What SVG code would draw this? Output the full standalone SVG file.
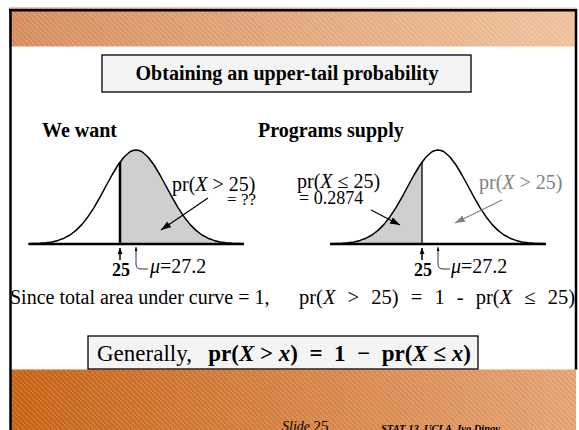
<svg xmlns="http://www.w3.org/2000/svg" width="579" height="430" viewBox="0 0 579 430">
<style>
.t{font-family:"Liberation Serif","Times New Roman",serif;fill:#000}
.b{font-weight:bold}
.i{font-style:italic}
.curve{fill:none;stroke:#000;stroke-width:1.5;stroke-linejoin:round}
.shade{fill:#cfcfcf;stroke:none}
.axis{stroke:#000;stroke-width:2.5;fill:none}
.frame{stroke:#000;stroke-width:2.5;fill:none}
.box{fill:#f4f4f4;stroke:#000;stroke-width:1.3}
</style>
<defs>
<linearGradient id="gTop" x1="0" y1="0" x2="1" y2="0"><stop offset="0" stop-color="#d68d5e"/><stop offset="1" stop-color="#eec29c"/></linearGradient>
<linearGradient id="gBot" x1="0" y1="0" x2="1" y2="0"><stop offset="0" stop-color="#c66214"/><stop offset="1" stop-color="#e4a274"/></linearGradient>
<pattern id="hatch" width="5" height="5" patternUnits="userSpaceOnUse"><path d="M-1,-1 L6,6 M-1,4 L1,6 M4,-1 L6,1" stroke="#fff" stroke-opacity="0.28" stroke-width="0.8"/></pattern>
<marker id="ah" viewBox="0 0 10 7" refX="10" refY="3.5" markerWidth="10" markerHeight="7" markerUnits="userSpaceOnUse" orient="auto"><path d="M0,0 L10,3.5 L0,7 z" fill="#000"/></marker>
<marker id="ahg" viewBox="0 0 10 7" refX="10" refY="3.5" markerWidth="10" markerHeight="7" markerUnits="userSpaceOnUse" orient="auto"><path d="M0,0 L10,3.5 L0,7 z" fill="#808080"/></marker>
<marker id="ahs" viewBox="0 0 6 5" refX="6" refY="2.5" markerWidth="6" markerHeight="5" markerUnits="userSpaceOnUse" orient="auto"><path d="M0,0 L6,2.5 L0,5 z" fill="#000"/></marker>
<marker id="aht" viewBox="0 0 4 3" refX="4" refY="1.5" markerWidth="4" markerHeight="3" markerUnits="userSpaceOnUse" orient="auto-start-reverse"><path d="M0,0 L4,1.5 L0,3 z" fill="#000"/></marker>
<polyline id="curve" class="curve" points="-108,243.8 -102,243.6 -96,243.3 -90,242.8 -84,241.9 -78,240.4 -72,238.2 -66,235 -60,230.4 -54,224.4 -48,216.7 -42,207.6 -36,197.2 -30,186 -24,175 -18,165 -12,157 -6,151.8 -3,150.45 0,150 3,150.45 6,151.8 12,157 18,165 24,175 30,186 36,197.2 42,207.6 48,216.7 54,224.4 60,230.4 66,235 72,238.2 78,240.4 84,241.9 90,242.8 96,243.3 102,243.6 108,243.8"/>
</defs>
<rect x="0" y="0" width="579" height="430" fill="#fff"/>
<g id="background">
<rect x="9" y="7.5" width="568" height="39" fill="url(#gTop)"/>
<rect x="9" y="7.5" width="568" height="39" fill="url(#hatch)"/>
<rect x="10" y="369.5" width="566" height="61" fill="url(#gBot)"/>
<rect x="10" y="369.5" width="566" height="61" fill="url(#hatch)"/>
<path class="frame" d="M9,10.25 L577,10.25 M10.5,9 L10.5,430 M576,9 L576,369.5"/>
</g>
<g id="title">
<rect class="box" x="102" y="55" width="369" height="37"/>
<text class="t b" x="287" y="80" font-size="20" text-anchor="middle">Obtaining an upper-tail probability</text>
</g>
<g id="left-graph">
<polygon class="shade" points="120,162.1 124,157 130,151.8 133,150.45 136,150 139,150.45 142,151.8 148,157 154,165 160,175 166,186 172,197.2 178,207.6 184,216.7 190,224.4 196,230.4 202,235 208,238.2 214,240.4 220,241.9 226,242.8 232,243.3 238,243.6 244,243.8 244,244 120,244"/>
<use href="#curve" x="136"/>
<line class="axis" x1="29" y1="244" x2="244" y2="244"/>
<line class="axis" x1="120" y1="162" x2="120" y2="244"/>
<text class="t b" x="42" y="137" font-size="20">We want</text>
<text class="t" x="172" y="191" font-size="20">pr(<tspan class="i">X</tspan> &gt; 25)</text>
<text class="t" x="256" y="205" font-size="17" text-anchor="end">= ??</text>
<text class="t b" x="121" y="276" font-size="18" text-anchor="middle">25</text>
<text class="t" x="150" y="273" font-size="20"><tspan class="i">μ</tspan>=27.2</text>
</g>
<g id="right-graph">
<polygon class="shade" points="330,244 330,243.8 336,243.6 342,243.3 348,242.8 354,241.9 360,240.4 366,238.2 372,235 378,230.4 384,224.4 390,216.7 396,207.6 402,197.2 408,186 414,175 420,165 422,162.1 422,244"/>
<use href="#curve" x="438"/>
<line class="axis" x1="330" y1="244" x2="546" y2="244"/>
<line x1="422" y1="162" x2="422" y2="244" stroke="#000" stroke-width="1.3"/>
<text class="t b" x="258" y="137" font-size="20">Programs supply</text>
<text class="t" x="297" y="188" font-size="20">pr(<tspan class="i">X</tspan> ≤ 25)</text>
<text class="t" x="299" y="204" font-size="18">= 0.2874</text>
<text class="t" x="479" y="189" font-size="20" style="fill:#808080">pr(<tspan class="i">X</tspan> &gt; 25)</text>
<text class="t b" x="423" y="276" font-size="18" text-anchor="middle">25</text>
<text class="t" x="451" y="273" font-size="20"><tspan class="i">μ</tspan>=27.2</text>
</g>
<g id="connectors">
<line x1="208" y1="198" x2="161" y2="230" stroke="#000" stroke-width="1.2" marker-end="url(#ah)"/>
<line x1="371" y1="210" x2="400" y2="225" stroke="#000" stroke-width="1.2" marker-end="url(#ah)"/>
<line x1="502" y1="200" x2="455" y2="223" stroke="#808080" stroke-width="1.2" marker-end="url(#ahg)"/>
<line x1="120" y1="260" x2="120" y2="248" stroke="#000" stroke-width="1.5" marker-end="url(#ahs)"/>
<line x1="422" y1="260" x2="422" y2="248" stroke="#000" stroke-width="1.5" marker-end="url(#ahs)"/>
<path d="M136,247 L136,264 Q136,269 141,269 L148,269" fill="none" stroke="#000" stroke-width="0.8" marker-start="url(#aht)"/>
<path d="M438,247 L438,264 Q438,269 443,269 L450,269" fill="none" stroke="#000" stroke-width="0.8" marker-start="url(#aht)"/>
</g>
<g id="statement">
<text class="t" x="10" y="304" font-size="20">Since total area under curve = 1,</text>
<text class="t" x="575" y="304" font-size="20.5" text-anchor="end" style="word-spacing:7px">pr(<tspan class="i">X</tspan> &gt; 25) = 1 - pr(<tspan class="i">X</tspan> ≤ 25)</text>
</g>
<g id="general">
<rect class="box" x="88" y="336" width="390" height="33"/>
<text class="t" x="97" y="361" font-size="23">Generally,</text>
<text class="t b" x="471" y="361" font-size="23" text-anchor="end">pr(<tspan class="i">X</tspan> &gt; <tspan class="i">x</tspan>)&#160; =&#160; 1&#160; −&#160; pr(<tspan class="i">X</tspan> ≤ <tspan class="i">x</tspan>)</text>
</g>
<g id="footer">
<text class="t" x="282" y="431" font-size="14"><tspan class="i">Slide </tspan><tspan font-size="15">25</tspan></text>
<text class="t b i" x="381" y="432" font-size="10.5">STAT 13, UCLA, Ivo Dinov</text>
</g>
</svg>
